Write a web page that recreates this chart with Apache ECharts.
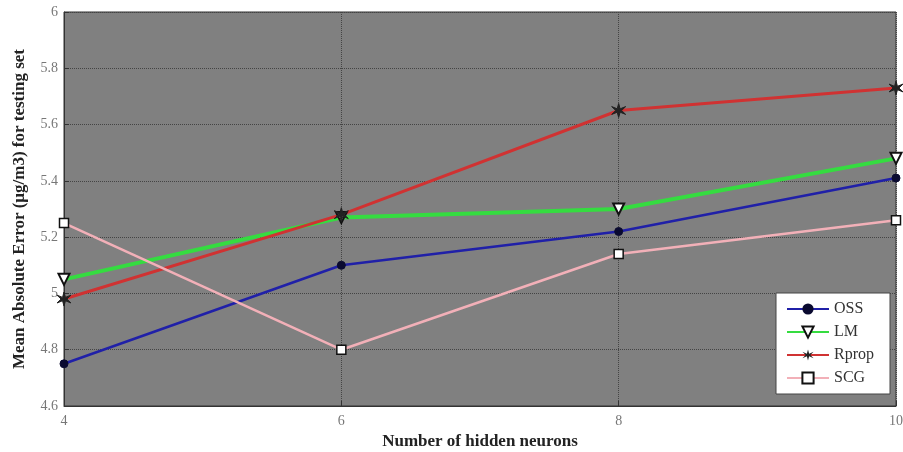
<!DOCTYPE html>
<html>
<head>
<meta charset="utf-8">
<script src="https://cdn.jsdelivr.net/npm/echarts@6/dist/echarts.min.js"></script>
<style>
  html, body { margin: 0; padding: 0; background: #fff; overflow: hidden; }
  #chart { width: 903px; height: 452px; }
</style>
</head>
<body>
<div id="chart"></div>
<script>
const neurons = [4, 6, 8, 10];
const oss = [4.75, 5.10, 5.22, 5.41];
const lm = [5.05, 5.27, 5.30, 5.48];
const rprop = [4.98, 5.28, 5.65, 5.73];
const scg = [5.25, 4.80, 5.14, 5.26];

const pair = (vals) => vals.map((v, i) => [neurons[i], v]);
const starPath = 'path://M5,0 L6,3.8 L9.8,2.2 L7,5 L9.8,7.8 L6,6.2 L5,10 L4,6.2 L0.2,7.8 L3,5 L0.2,2.2 L4,3.8 Z';
const serif = '"Liberation Serif", "DejaVu Serif", serif';

var myChart = echarts.init(document.getElementById('chart'));
var option = {
  backgroundColor: '#fff',
  animation: false,
  grid: { left: 64, right: 7, top: 12, bottom: 46, outerBoundsMode: 'none', containLabel: false,
    show: true, backgroundColor: '#808080', borderColor: '#333', borderWidth: 1 },
  legend: {
    right: 13, top: 293, orient: 'vertical',
    backgroundColor: '#fff', borderColor: '#444', borderWidth: 1,
    padding: [8, 16, 8, 10], itemGap: 7, itemWidth: 42, itemHeight: 14,
    textStyle: { fontFamily: serif, fontSize: 16, color: '#333' },
    data: ['OSS', 'LM', 'Rprop', 'SCG']
  },
  xAxis: {
    type: 'value', min: 4, max: 10, interval: 2,
    name: 'Number of hidden neurons', nameLocation: 'middle', nameGap: 27,
    nameTextStyle: { fontFamily: serif, fontSize: 17, fontWeight: 'bold', color: '#222' },
    axisLine: { lineStyle: { color: '#333' } },
    axisTick: { inside: true, length: 5, lineStyle: { color: '#333' } },
    axisLabel: { fontFamily: serif, fontSize: 14, color: '#777', margin: 8 },
    splitLine: { show: true, lineStyle: { color: '#444', type: 'dotted' } }
  },
  yAxis: {
    type: 'value', min: 4.6, max: 6, interval: 0.2,
    name: 'Mean Absolute Error (μg/m3) for testing set', nameLocation: 'middle', nameGap: 36,
    nameTextStyle: { fontFamily: serif, fontSize: 17, fontWeight: 'bold', color: '#222' },
    axisLine: { show: true, lineStyle: { color: '#333' } },
    axisTick: { show: true, inside: true, length: 5, lineStyle: { color: '#333' } },
    axisLabel: { fontFamily: serif, fontSize: 14, color: '#777', margin: 6,
      formatter: (v) => String(Math.round(v * 10) / 10) },
    splitLine: { show: true, lineStyle: { color: '#444', type: 'dotted' } }
  },
  series: [
    { name: 'OSS', type: 'line', data: pair(oss), color: '#2020a8',
      lineStyle: { width: 2.5, color: '#2020a8' },
      symbol: 'circle', symbolSize: 8, itemStyle: { color: '#0a0a30', borderColor: '#0a0a30' } },
    { name: 'LM', type: 'line', data: pair(lm), color: '#35dc40',
      lineStyle: { width: 4, color: '#35dc40' },
      symbol: 'triangle', symbolRotate: 180, symbolSize: 11,
      itemStyle: { color: '#fff', borderColor: '#111', borderWidth: 2 } },
    { name: 'Rprop', type: 'line', data: pair(rprop), color: '#d03232',
      lineStyle: { width: 3, color: '#d03232' },
      symbol: starPath, symbolSize: 14, itemStyle: { color: '#222', borderColor: '#222' } },
    { name: 'SCG', type: 'line', data: pair(scg), color: '#f2b0b8',
      lineStyle: { width: 2.5, color: '#f2b0b8' },
      symbol: 'rect', symbolSize: 9, itemStyle: { color: '#fff', borderColor: '#111', borderWidth: 1.5 } }
  ]
};
option && myChart.setOption(option);
</script>
</body>
</html>
